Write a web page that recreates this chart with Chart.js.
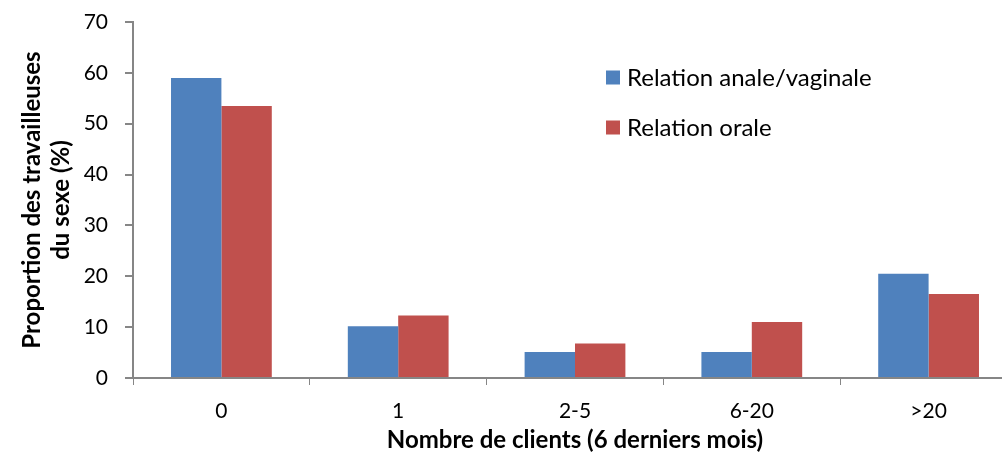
<!DOCTYPE html>
<html>
<head>
<meta charset="utf-8">
<script src="https://cdn.jsdelivr.net/npm/chart.js@4"></script>
<style>
  html, body { margin: 0; padding: 0; background: #fff; overflow: hidden; }
  #wrap { width: 1020px; height: 465px; }
</style>
</head>
<body>
<div id="wrap"><canvas id="chartClients"></canvas></div>
<script>
const categories = ["0", "1", "2-5", "6-20", ">20"];
const analeVaginale = [59.0, 10.2, 5.1, 5.1, 20.5];
const orale = [53.5, 12.3, 6.8, 11.0, 16.5];
const yTicks = [0, 10, 20, 30, 40, 50, 60, 70];

const FONT = "Lato, 'Open Sans', sans-serif";

// legend drawn inside the plot, like the original
const insideLegend = {
  id: "insideLegend",
  afterDraw(chart) {
    const ctx = chart.ctx;
    const x = 606, y0 = 77.5, gap = 50;
    ctx.save();
    ctx.font = "24px " + FONT;
    ctx.textBaseline = "middle";
    chart.data.datasets.forEach((ds, i) => {
      const y = y0 + i * gap;
      ctx.fillStyle = ds.backgroundColor;
      ctx.fillRect(x, y - 7, 14, 14);
      ctx.fillStyle = "#000";
      ctx.fillText(ds.label, x + 21, y + 1);
    });
    ctx.restore();
  }
};

const ctx = document.getElementById("chartClients").getContext("2d");
new Chart(ctx, {
  type: "bar",
  data: {
    labels: categories,
    datasets: [
      { label: "Relation anale/vaginale", data: analeVaginale, backgroundColor: "#4F81BD" },
      { label: "Relation orale", data: orale, backgroundColor: "#C0504D" }
    ]
  },
  options: {
    responsive: true,
    maintainAspectRatio: false,
    animation: false,
    datasets: { bar: { categoryPercentage: 0.57, barPercentage: 1.0 } },
    layout: { padding: { top: 22, right: 3, left: 0, bottom: 0 } },
    plugins: { legend: { display: false }, tooltip: { enabled: false } },
    scales: {
      x: {
        afterFit: axis => { axis.height = 87; },
        grid: { display: true, offset: true, drawOnChartArea: false, tickLength: 7, color: "#868686", lineWidth: 1 },
        border: { color: "#868686", width: 2 },
        ticks: { color: "#000", font: { family: FONT, size: 21 }, padding: 14 },
        title: { display: true, text: "Nombre de clients (6 derniers mois)", color: "#000", font: { family: FONT, size: 24, weight: "bold" }, padding: { top: 0, bottom: 10 } }
      },
      y: {
        min: 0,
        max: 70,
        afterFit: axis => { axis.width = 133; axis.paddingTop = 0; axis.paddingBottom = 0; },
        afterBuildTicks: axis => { axis.ticks = yTicks.map(v => ({ value: v })); },
        grid: { display: true, drawOnChartArea: false, tickLength: 8, color: "#868686", lineWidth: 2 },
        border: { color: "#868686", width: 2 },
        ticks: { color: "#000", font: { family: FONT, size: 21 }, padding: 17 },
        title: { display: true, text: ["Proportion des travailleuses", "du sexe (%)"], color: "#000", font: { family: FONT, size: 24, weight: "bold" }, padding: { top: 18, bottom: 0 } }
      }
    }
  },
  plugins: [insideLegend]
});
</script>
</body>
</html>
